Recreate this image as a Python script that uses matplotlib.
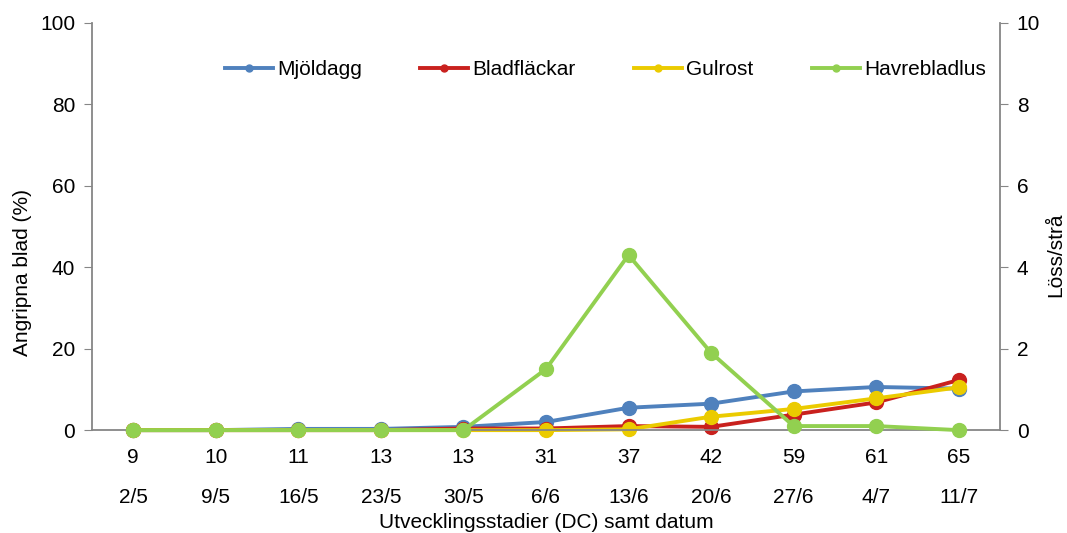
import numpy as np
import matplotlib.pyplot as plt
from matplotlib.transforms import blended_transform_factory

plt.rcParams['font.family'] = ['Liberation Sans', 'DejaVu Sans']

# utvecklingsstadier och datum
dc = ["9", "10", "11", "13", "13", "31", "37", "42", "59", "61", "65"]
datum = ["2/5", "9/5", "16/5", "23/5", "30/5", "6/6", "13/6", "20/6", "27/6", "4/7", "11/7"]

# angripna blad (%)
mjoldagg = [0, 0, 0.3, 0.3, 0.8, 2.0, 5.5, 6.5, 9.5, 10.6, 10.2]
bladflackar = [0, 0, 0, 0, 0.4, 0.4, 1.0, 0.8, 3.8, 6.8, 12.3]
gulrost = [0, 0, 0, 0, 0, 0, 0.2, 3.3, 5.2, 7.8, 10.5]
# löss per strå
havrebladlus = [0, 0, 0, 0, 0, 1.5, 4.3, 1.9, 0.1, 0.1, 0]

grey = "#868686"
fs = 15

fig = plt.figure(figsize=(10.67, 5.33), dpi=100)
ax = fig.add_axes([0.0862, 0.193, 0.851, 0.764])
ax2 = ax.twinx()

x = np.arange(len(dc))
lw, ms = 2.8, 10
l1, = ax.plot(x, mjoldagg, color="#4F81BD", lw=lw, marker="o", ms=ms, label="Mjöldagg")
l2, = ax.plot(x, bladflackar, color="#C9211E", lw=lw, marker="o", ms=ms, label="Bladfläckar")
l3, = ax.plot(x, gulrost, color="#EBCB00", lw=lw, marker="o", ms=ms, label="Gulrost")
l4, = ax2.plot(x, havrebladlus, color="#92D050", lw=lw, marker="o", ms=ms, label="Havrebladlus")
for l in (l1, l2, l3, l4):
    l.set_clip_on(False)

ax.set_xlim(-0.5, len(dc) - 0.5)
ax.set_ylim(0, 100)
ax2.set_ylim(0, 10)
ax.set_yticks(range(0, 101, 20))
ax2.set_yticks(range(0, 11, 2))

ax.set_xticks(x)
ax.set_xticklabels(dc, fontsize=fs)
ax.tick_params(axis="x", length=0, pad=13)
ax.tick_params(axis="y", labelsize=fs, color=grey, length=6, direction="out", pad=6)
ax2.tick_params(axis="y", labelsize=fs, color=grey, length=6, direction="out", pad=6)

trans = blended_transform_factory(ax.transData, ax.transAxes)
for xi, d in zip(x, datum):
    ax.text(xi, -0.165, d, transform=trans, ha="center", va="center", fontsize=fs)

ax.set_xlabel("Utvecklingsstadier (DC) samt datum", fontsize=fs, labelpad=33)
ax.set_ylabel("Angripna blad (%)", fontsize=fs, ha="center", va="center")
ax2.set_ylabel("Löss/strå", fontsize=fs, ha="center", va="center")
ax.yaxis.set_label_coords(-0.076, 0.388)
ax2.yaxis.set_label_coords(1.061, 0.43)

for a in (ax, ax2):
    a.spines["top"].set_visible(False)
    for s in ("left", "right", "bottom"):
        a.spines[s].set_color(grey)
        a.spines[s].set_linewidth(1.3)
ax.spines["right"].set_visible(False)
ax2.spines["left"].set_visible(False)
ax2.spines["bottom"].set_visible(False)

leg = ax2.legend(handles=[l1, l2, l3, l4], loc="upper right", bbox_to_anchor=(1.005, 0.955),
                 ncol=4, frameon=False, fontsize=fs, handlelength=2.3, handletextpad=0.2,
                 columnspacing=2.8, markerscale=0.5)

fig.savefig("out.png", dpi=100)
